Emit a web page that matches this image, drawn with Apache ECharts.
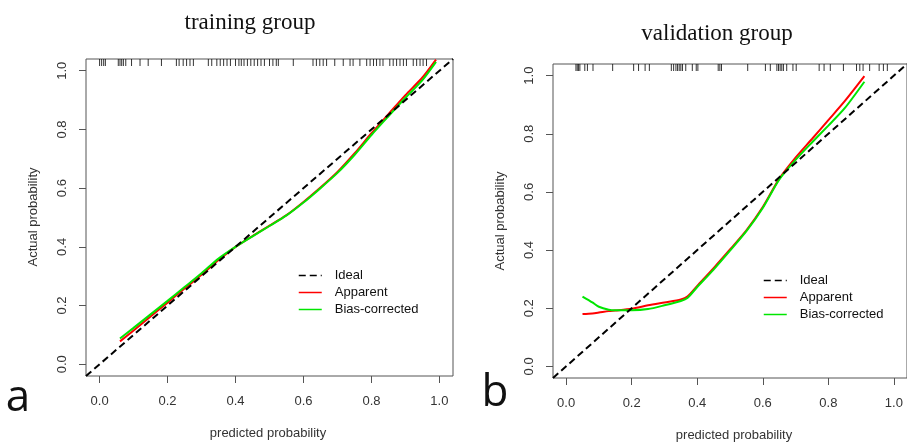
<!DOCTYPE html>
<html>
<head>
<meta charset="utf-8">
<script src="https://cdn.jsdelivr.net/npm/echarts@6/dist/echarts.min.js"></script>
<style>html,body{margin:0;padding:0;background:#fff;}#c{width:907px;height:442px;}</style>
</head>
<body>
<div id="c"></div>
<script>
// ---- data ----
const tickValues = [0, 0.2, 0.4, 0.6, 0.8, 1.0];
const idealX = [-0.04, 1.04];

const trainX = [0.06, 0.1, 0.15, 0.2, 0.25, 0.3, 0.35, 0.4, 0.45, 0.5, 0.55, 0.6, 0.65, 0.7, 0.75, 0.8, 0.85, 0.9, 0.95, 0.99];
const trainApparent = [0.078, 0.115, 0.163, 0.21, 0.258, 0.305, 0.355, 0.40, 0.437, 0.472, 0.508, 0.553, 0.602, 0.655, 0.718, 0.787, 0.852, 0.917, 0.977, 1.038];
const trainBias = [0.088, 0.124, 0.17, 0.216, 0.263, 0.31, 0.36, 0.40, 0.436, 0.471, 0.507, 0.551, 0.6, 0.652, 0.713, 0.781, 0.845, 0.908, 0.968, 1.03];
const trainRug = [0.0, 0.006, 0.012, 0.017, 0.055, 0.06, 0.065, 0.07, 0.077, 0.094, 0.119, 0.143, 0.182, 0.226, 0.234, 0.246, 0.256, 0.266, 0.276,
  0.32, 0.33, 0.345, 0.355, 0.365, 0.375, 0.385, 0.4, 0.41, 0.417, 0.425, 0.435, 0.445, 0.455, 0.465, 0.475, 0.485, 0.5, 0.51, 0.52, 0.526,
  0.57, 0.628, 0.638, 0.648, 0.658, 0.668, 0.692, 0.717, 0.737, 0.746, 0.766, 0.786, 0.796, 0.806, 0.815, 0.825, 0.834, 0.854, 0.864, 0.874,
  0.884, 0.894, 0.903, 0.923, 0.933, 0.943, 0.952, 0.962];

const validX = [0.05, 0.08, 0.1, 0.13, 0.15, 0.2, 0.25, 0.3, 0.35, 0.37, 0.4, 0.45, 0.5, 0.55, 0.6, 0.65, 0.7, 0.75, 0.8, 0.85, 0.91];
const validApparent = [0.18, 0.182, 0.185, 0.19, 0.192, 0.198, 0.21, 0.22, 0.23, 0.24, 0.277, 0.338, 0.402, 0.468, 0.548, 0.645, 0.718, 0.782, 0.847, 0.912, 0.998];
const validBias = [0.24, 0.22, 0.205, 0.195, 0.193, 0.193, 0.197, 0.21, 0.225, 0.235, 0.273, 0.333, 0.398, 0.465, 0.545, 0.642, 0.71, 0.77, 0.828, 0.888, 0.979];
const validRug = [0.03, 0.034, 0.038, 0.042, 0.057, 0.065, 0.082, 0.142, 0.206, 0.221, 0.241, 0.254, 0.321, 0.328, 0.335, 0.34, 0.345, 0.35, 0.355,
  0.365, 0.385, 0.397, 0.402, 0.464, 0.469, 0.474, 0.554, 0.608, 0.623, 0.643, 0.648, 0.653, 0.658, 0.663, 0.673, 0.692, 0.702,
  0.772, 0.787, 0.806, 0.846, 0.886, 0.896, 0.906, 0.926, 0.955, 0.968, 0.98];

// ---- chart ----
const zip = (xs, ys) => xs.map((x, i) => [x, ys[i]]);
const AX = '#555';
const LBL = '#333';
const FONT = 'Liberation Sans, Arial, sans-serif';

function xAxis(gi) {
  return {
    gridIndex: gi, type: 'value', min: -0.04, max: 1.04, position: 'bottom',
    axisLine: { show: false, onZero: false },
    splitLine: { show: false },
    axisTick: { show: true, length: 7, inside: false, lineStyle: { color: AX, width: 1 }, customValues: tickValues },
    axisLabel: { customValues: tickValues, margin: 19, color: LBL, fontSize: 13, fontFamily: FONT, formatter: v => v.toFixed(1) }
  };
}
function yAxis(gi) {
  return {
    gridIndex: gi, type: 'value', min: -0.04, max: 1.04, position: 'left',
    axisLine: { show: false, onZero: false },
    splitLine: { show: false },
    axisTick: { show: true, length: 7, inside: false, lineStyle: { color: AX, width: 1 }, customValues: tickValues },
    axisLabel: { customValues: tickValues, rotate: 90, margin: 17, color: LBL, fontSize: 13, fontFamily: FONT, formatter: v => v.toFixed(1) }
  };
}
function lineSeries(name, gi, data, color, opts) {
  return Object.assign({
    name: name, type: 'line', xAxisIndex: gi, yAxisIndex: gi, data: data,
    showSymbol: false, symbol: 'none', smooth: 0.25,
    lineStyle: { color: color, width: 2 }, itemStyle: { color: color },
    silent: true, animation: false, z: 3
  }, opts || {});
}
function rugSeries(gi, xs) {
  return {
    type: 'scatter', xAxisIndex: gi, yAxisIndex: gi,
    data: xs.map(x => [x, 1.04]),
    symbol: 'rect', symbolSize: [1, 7], symbolOffset: [0, 3.5],
    itemStyle: { color: '#000' }, silent: true, animation: false, z: 2
  };
}

const chart = echarts.init(document.getElementById('c'), null, { renderer: 'canvas' });
const legendCommon = {
  orient: 'vertical', itemWidth: 23, itemHeight: 14, itemGap: 4,
  textStyle: { fontSize: 13, fontFamily: FONT, color: '#111', padding: [0, 0, 0, 8] },
  lineStyle: { width: 1.5 },
  itemStyle: { opacity: 0 },
  data: ['Ideal', 'Apparent', 'Bias-corrected'],
  selectedMode: false
};
chart.setOption({
  animation: false,
  backgroundColor: '#fff',
  grid: [
    { left: 86, top: 59, width: 367, height: 317, show: true, borderColor: AX, borderWidth: 1, backgroundColor: 'transparent' },
    { left: 553, top: 64, width: 363, height: 314, show: true, borderColor: AX, borderWidth: 1, backgroundColor: 'transparent' }
  ],
  xAxis: [xAxis(0), xAxis(1)],
  yAxis: [yAxis(0), yAxis(1)],
  legend: [
    Object.assign({}, legendCommon, { left: 293, top: 264 }),
    Object.assign({}, legendCommon, { left: 758, top: 269 })
  ],
  series: [
    lineSeries('Ideal', 0, zip(idealX, idealX), '#000', { smooth: false, lineStyle: { color: '#000', width: 2, type: [7, 4] }, z: 4 }),
    lineSeries('Apparent', 0, zip(trainX, trainApparent), '#ff0000'),
    lineSeries('Bias-corrected', 0, zip(trainX, trainBias), '#00e600'),
    rugSeries(0, trainRug),
    lineSeries('Ideal', 1, zip(idealX, idealX), '#000', { smooth: false, lineStyle: { color: '#000', width: 2, type: [7, 4] }, z: 4 }),
    lineSeries('Apparent', 1, zip(validX, validApparent), '#ff0000'),
    lineSeries('Bias-corrected', 1, zip(validX, validBias), '#00e600'),
    rugSeries(1, validRug)
  ],
  graphic: [
    { type: 'text', x: 250, y: 23, style: { text: 'training group', font: '23px "Liberation Serif", serif', fill: '#111', textAlign: 'center', textVerticalAlign: 'middle' } },
    { type: 'text', x: 717, y: 34, style: { text: 'validation group', font: '23px "Liberation Serif", serif', fill: '#111', textAlign: 'center', textVerticalAlign: 'middle' } },
    { type: 'text', x: 268, y: 433, style: { text: 'predicted probability', font: '13px ' + FONT, fill: LBL, textAlign: 'center', textVerticalAlign: 'middle' } },
    { type: 'text', x: 734, y: 435, style: { text: 'predicted probability', font: '13px ' + FONT, fill: LBL, textAlign: 'center', textVerticalAlign: 'middle' } },
    { type: 'text', x: 33, y: 217, rotation: Math.PI / 2, style: { text: 'Actual probability', font: '13px ' + FONT, fill: LBL, textAlign: 'center', textVerticalAlign: 'middle' } },
    { type: 'text', x: 500, y: 221, rotation: Math.PI / 2, style: { text: 'Actual probability', font: '13px ' + FONT, fill: LBL, textAlign: 'center', textVerticalAlign: 'middle' } },
    { type: 'text', x: 18, y: 398, style: { text: 'a', font: '44px "Open Sans", sans-serif', fill: '#111', textAlign: 'center', textVerticalAlign: 'middle' } },
    { type: 'text', x: 495, y: 393, style: { text: 'b', font: '44px "Open Sans", sans-serif', fill: '#111', textAlign: 'center', textVerticalAlign: 'middle' } }
  ]
});
</script>
</body>
</html>
